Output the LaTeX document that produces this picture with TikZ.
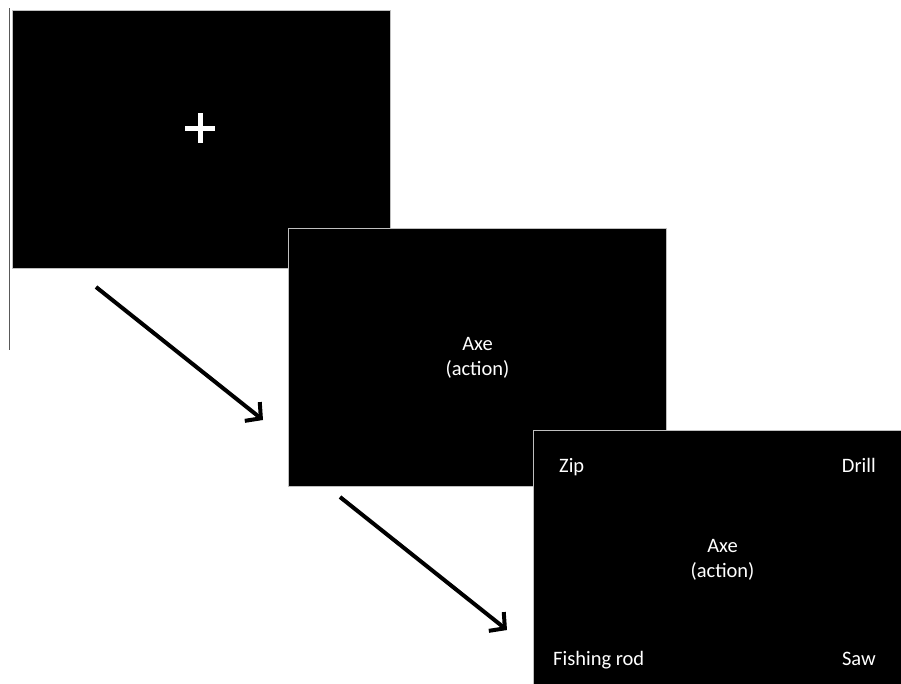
\documentclass[tikz,border=0pt]{standalone}
\usepackage{fontspec}
\setmainfont{Carlito}
\usetikzlibrary{arrows.meta,positioning}
\tikzstyle{screen}=[rectangle, fill=black, draw=black!25, line width=1pt, anchor=north west, minimum width=378pt, minimum height=258pt, inner sep=0pt, text=white, align=center, font=\fontsize{20.5}{25}\selectfont]
\tikzstyle{choice}=[text=white, inner sep=0pt, font=\fontsize{20.5}{25}\selectfont]
\tikzstyle{step arrow}=[line width=4pt, -{Straight Barb[length=11pt, width=24pt, line width=4pt]}]

\begin{document}
\begin{tikzpicture}[x=1pt, y=-1pt]
		\useasboundingbox (0, 0) rectangle (901, 683);
		
		\draw[black!65, line width=1.2pt] (9.5, 8) -- (9.5, 350);
		
		\node[screen] at (12, 10) (s1) {};
		\draw[white, line width=5pt] (185, 128) -- (215, 128);
		\draw[white, line width=5pt] (200, 113) -- (200, 143);
		
		\node[screen] at (288, 228) (s2) {Axe\\(action)};
		
		\node[screen] at (533, 430) (s3) {Axe\\(action)};
		
		\node[choice, anchor=base west] at (559, 472) (zip) {Zip};
		\node[choice, anchor=base east] at (876, 472) (drill) {Drill};
		\node[choice, anchor=base west] at (553, 665) (rod) {Fishing rod};
		\node[choice, anchor=base east] at (876, 665) (saw) {Saw};
		
		\coordinate (a1) at (96, 287);
		\coordinate (b1) at (263, 420);
		\coordinate (a2) at (340, 497);
		\coordinate (b2) at (507, 630);
		
		\draw[step arrow] (a1) -- (b1);
		\draw[step arrow] (a2) -- (b2);
		
		\end{tikzpicture}
\end{document}
